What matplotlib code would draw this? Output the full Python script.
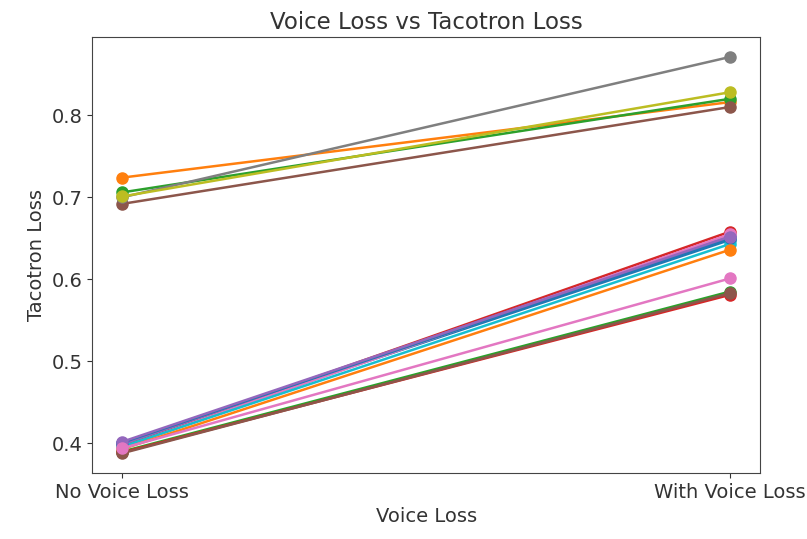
import matplotlib
matplotlib.use('Agg')
import matplotlib.pyplot as plt

# 各実験の Tacotron Loss (Voice Loss なし / あり)
conditions = ["No Voice Loss", "With Voice Loss"]
no_voice = [0.400, 0.724, 0.706, 0.398, 0.399, 0.692, 0.395, 0.700, 0.701,
            0.396, 0.401, 0.393, 0.390, 0.389, 0.402, 0.388, 0.394]
with_voice = [0.648, 0.816, 0.820, 0.658, 0.654, 0.810, 0.655, 0.871, 0.828,
              0.643, 0.650, 0.636, 0.585, 0.581, 0.652, 0.583, 0.601]

text_color = '#333333'

fig = plt.figure(figsize=(8.07, 5.39), dpi=100)
ax = fig.add_axes([0.114, 0.1224, 0.828, 0.8086])

for a, b in zip(no_voice, with_voice):
    ax.plot(conditions, [a, b], marker='o', linewidth=1.8, markersize=8)

ax.set_title("Voice Loss vs Tacotron Loss", fontsize=16.5, color=text_color)
ax.set_xlabel("Voice Loss", fontsize=14, color=text_color)
ax.set_ylabel("Tacotron Loss", fontsize=14, color=text_color)
ax.tick_params(labelsize=14, colors=text_color)
for spine in ax.spines.values():
    spine.set_color('#444444')

plt.savefig("out.png", dpi=100)
plt.close()
